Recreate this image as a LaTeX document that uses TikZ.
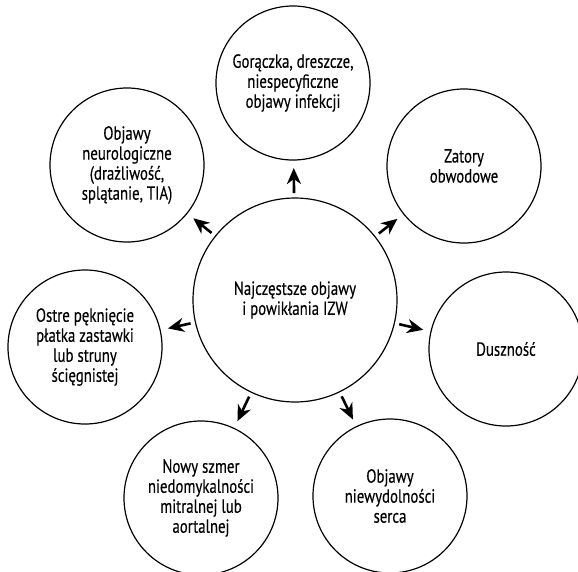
\documentclass[tikz,border=0pt]{standalone}
\usepackage{fontspec}
\setmainfont{PT Sans}[FakeStretch=0.78,FakeBold=0.3]
\usetikzlibrary{arrows.meta}
\tikzset{
  bubble/.style={circle, draw=black, line width=1.2pt, inner sep=0pt, outer sep=0pt,
    minimum size=154pt, align=center, font=\fontsize{19}{20}\selectfont},
  hub/.style={bubble, minimum size=204pt},
  arr/.style={line width=2.6pt, -{Stealth[length=16pt,width=14pt,inset=5pt]},
    shorten <=5pt, shorten >=8pt}
}
\begin{document}
\begin{tikzpicture}[x=1pt,y=-1pt]
\useasboundingbox (0,0) rectangle (578,571);
\clip (0,0) rectangle (578,571);
\node[hub] (c) at (295,300) {Najczęstsze objawy\\i powikłania IZW};
\node[bubble] (top) at (293,83) {Gorączka, dreszcze,\\niespecyficzne\\objawy infekcji};
\node[bubble] (tr) at (464,166) {Zatory\\obwodowe};
\node[bubble] (tl) at (127,165) {Objawy\\neurologiczne\\(drażliwość,\\splątanie, TIA)};
\node[bubble] (r) at (506,349) {Duszność};
\node[bubble] (l) at (85,347) {Ostre pęknięcie\\płatka zastawki\\lub struny\\ścięgnistej};
\node[bubble] (bl) at (201,498) {Nowy szmer\\niedomykalności\\mitralnej lub\\aortalnej};
\node[bubble] (br) at (390,496) {Objawy\\niewydolności\\serca};
\foreach \t in {top,tr,tl,r,l,bl,br}
  \draw[arr] (c) -- (\t);
\end{tikzpicture}
\end{document}
